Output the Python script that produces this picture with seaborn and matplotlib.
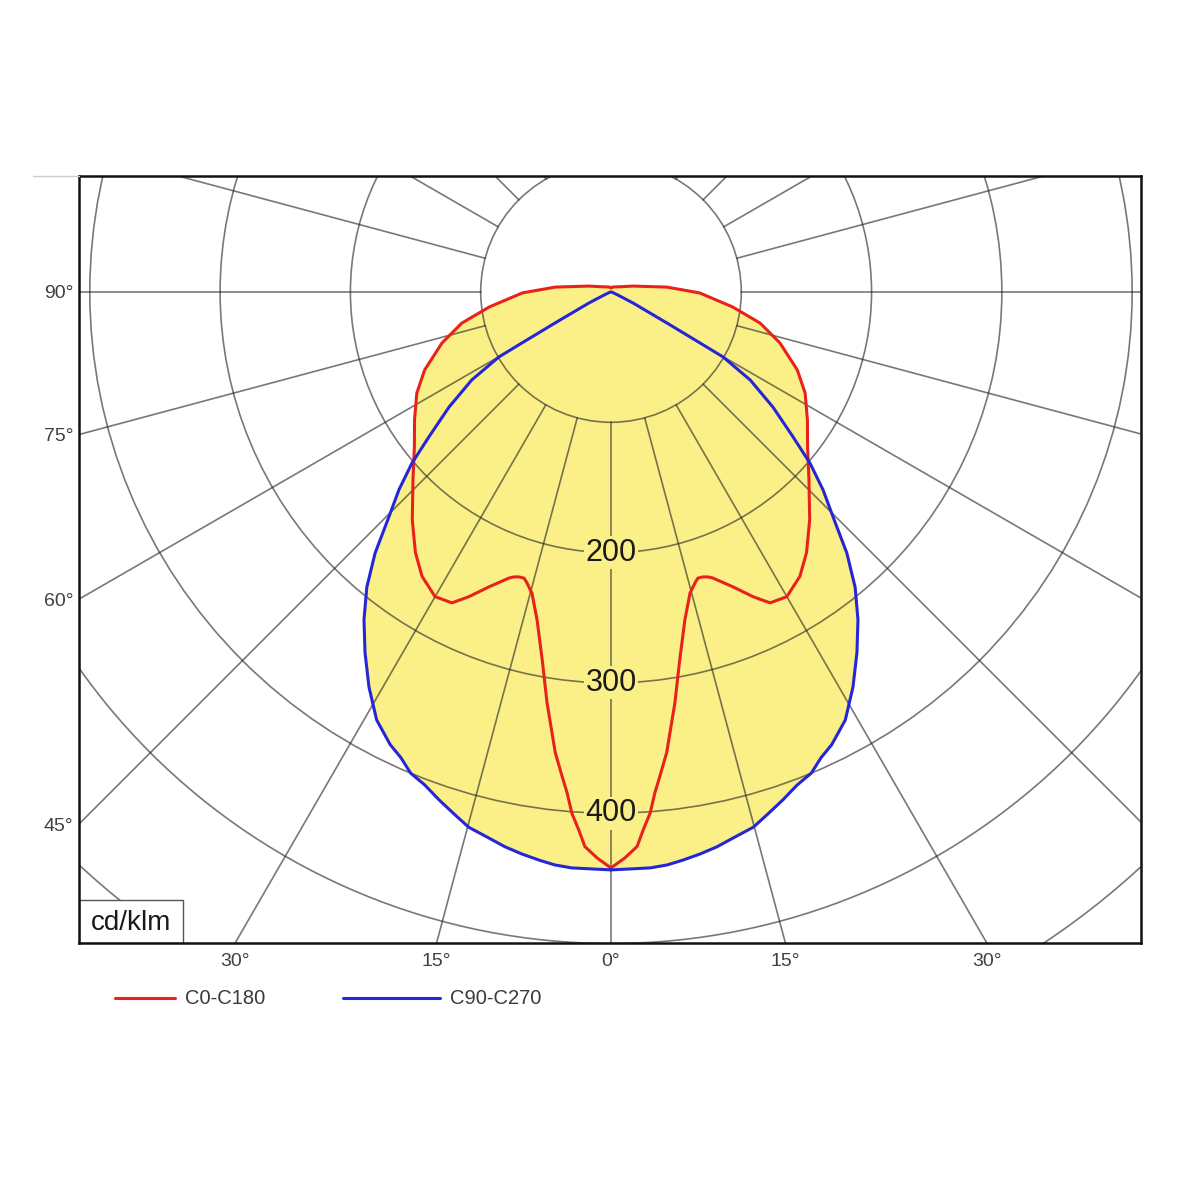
import numpy as np
import pandas as pd
import seaborn as sns
import matplotlib.pyplot as plt
from matplotlib.patches import Circle, Rectangle
from matplotlib.lines import Line2D

# gamma angle (deg, 0 = straight down) and luminous intensity (cd/klm), half plane
gamma_c0 = [0, 1.4, 2.7, 3.4, 4.3, 5.0, 5.8, 6.9, 8.85, 10.6, 12.7, 14.7, 16.2, 16.9, 17.9,
            18.8, 19.6, 22.5, 25, 27.1, 30, 33.6, 36.9, 41.1, 46.5, 51.8, 56.9, 62.5, 67.3,
            73.2, 78.2, 83, 89.4, 95, 105, 120, 135, 150, 165, 180]
cd_c0 = [442, 434.5, 426, 414, 401, 386, 373, 356, 319, 287, 258, 239, 232, 229.5, 229.8,
         231, 233, 245, 258, 268, 270, 262, 250, 232, 209.5, 192, 180, 168, 155,
         135.5, 117, 94, 68, 43, 17.5, 8, 5.5, 4.5, 3.8, 3]

gamma_c90 = [0, 3.9, 5.6, 7.2, 9.0, 10.8, 12.8, 14.9, 16.7, 18.7, 20.7, 22.6, 24.3, 26, 28.7,
             31.5, 34.3, 37, 39.6, 42.1, 44.6, 47, 49.3, 51.5, 54.6, 57.7, 59.9, 60.2, 61,
             63.4, 66, 70, 80, 90, 180]
cd_c90 = [443.5, 443, 441.8, 439.5, 436.7, 433.5, 429, 425, 418.4, 411.5, 404.4, 400, 392, 386.5,
          374.5, 355.5, 335, 315, 294, 270, 243, 222.5, 201.5, 178.5, 152.5, 126.5, 99.5, 79,
          49, 19, 6, 2, 0.5, 0, 0]

plane_names = ["C0-C180", "C90-C270"]
plane_colors = ["#e8221b", "#2626d9"]

grid_radii = [100, 200, 300, 400, 500, 600]
ring_labels = [200, 300, 400]
side_angles = [90, 75, 60, 45]
bottom_angles = [-30, -15, 0, 15, 30]

XMIN, XMAX, YMIN, YMAX = -408.3, 406.8, -499.6, 89.0
FILL = "#faf087"


def closed_curve(gamma, cd, name):
    g = np.radians(gamma)
    r = np.asarray(cd, float)
    xr, yr = r * np.sin(g), -r * np.cos(g)
    x = np.concatenate([xr, -xr[::-1]])
    y = np.concatenate([yr, yr[::-1]])
    return pd.DataFrame({"x": x, "y": y, "plane": name})


df = pd.concat([closed_curve(gamma_c0, cd_c0, plane_names[0]),
                closed_curve(gamma_c90, cd_c90, plane_names[1])], ignore_index=True)

sns.set_style("white")
plt.rcParams["font.family"] = ["Liberation Sans", "DejaVu Sans"]

fig = plt.figure(figsize=(12, 12), dpi=100)
ax = fig.add_axes([79 / 1200, 1 - 943 / 1200, 1062 / 1200, 767 / 1200])

# yellow area (union of both curves)
for name in plane_names:
    sub = df[df["plane"] == name]
    ax.fill(sub["x"], sub["y"], color=FILL, lw=0, zorder=1)

# polar grid
for r in grid_radii:
    ax.add_patch(Circle((0, 0), r, fill=False, ec="#262626", lw=1.2, alpha=0.62, zorder=2))
for a in range(0, 360, 15):
    t = np.radians(a)
    ax.plot([100 * np.sin(t), 1000 * np.sin(t)], [-100 * np.cos(t), -1000 * np.cos(t)],
            color="#262626", lw=1.2, alpha=0.62, zorder=2)

for v in ring_labels:
    ax.text(0, -v, str(v), ha="center", va="center", fontsize=22, color="#1a1a1a", zorder=3,
            bbox=dict(boxstyle="square,pad=0.05", fc=FILL, ec="none"))

sns.lineplot(data=df, x="x", y="y", hue="plane", palette=plane_colors, sort=False,
             estimator=None, lw=2.2, legend=False, ax=ax, zorder=4,
             solid_joinstyle="round", solid_capstyle="round")

ax.set_xlim(XMIN, XMAX)
ax.set_ylim(YMIN, YMAX)
ax.set_xlabel("")
ax.set_ylabel("")

ax.set_yticks([XMIN / np.tan(np.radians(a)) for a in side_angles])
ax.set_yticklabels([f"{a}°" for a in side_angles])
ax.set_xticks([-YMIN * np.tan(np.radians(a)) for a in bottom_angles])
ax.set_xticklabels([f"{abs(a)}°" for a in bottom_angles])
ax.tick_params(axis="both", length=0, labelsize=14, labelcolor="#404040")
ax.tick_params(axis="y", pad=4)
ax.tick_params(axis="x", pad=7)

for s in ax.spines.values():
    s.set_visible(True)
    s.set_color("#111111")
    s.set_linewidth(1.8)
    s.set_zorder(6)

# unit box
ax.add_patch(Rectangle((0, 0), 104 / 1062, 43 / 767, transform=ax.transAxes,
                       fc="white", ec="#555555", lw=1, zorder=5))
ax.text(52 / 1062, 20 / 767, "cd/klm", transform=ax.transAxes, ha="center", va="center",
        fontsize=20, color="#1a1a1a", zorder=6)

# faint line left of frame top
fig.add_artist(Line2D([33 / 1200, 79 / 1200], [1 - 176 / 1200] * 2, color="#cccccc", lw=1))

# legend
ly = 1 - 998 / 1200
for (x0, x1, tx), name, col in zip([(115, 175, 185), (343, 440, 450)], plane_names, plane_colors):
    fig.add_artist(Line2D([x0 / 1200, x1 / 1200], [ly, ly], color=col, lw=2.2))
    fig.text(tx / 1200, ly, name, ha="left", va="center", fontsize=14.5, color="#3a3a3a")

fig.savefig("out.png", dpi=100, facecolor="white")
